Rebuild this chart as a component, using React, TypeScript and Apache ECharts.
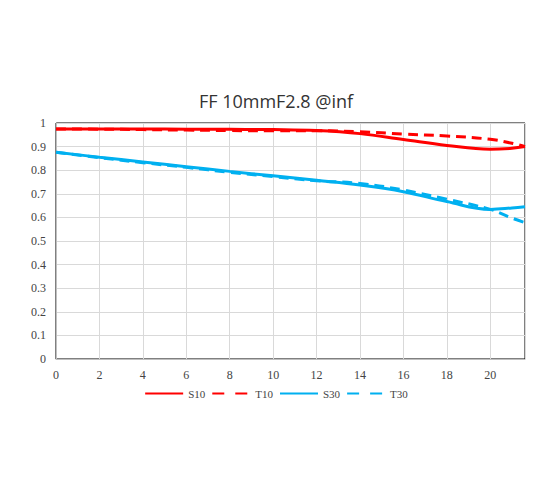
import React, { useEffect, useRef } from "react";
import * as echarts from "echarts";

const xValues = [0, 2, 4, 6, 8, 10, 12, 14, 16, 18, 20, 21, 21.6];
const s10 = [0.975, 0.975, 0.975, 0.974, 0.973, 0.972, 0.968, 0.955, 0.93, 0.905, 0.889, 0.893, 0.9];
const t10 = [0.975, 0.974, 0.972, 0.97, 0.968, 0.967, 0.967, 0.963, 0.953, 0.945, 0.931, 0.914, 0.9];
const s30 = [0.876, 0.855, 0.835, 0.815, 0.795, 0.776, 0.757, 0.737, 0.709, 0.667, 0.634, 0.64, 0.645];
const t30 = [0.876, 0.853, 0.832, 0.812, 0.791, 0.773, 0.755, 0.744, 0.716, 0.677, 0.634, 0.597, 0.578];
const seriesNames = ["S10", "T10", "S30", "T30"];
const titleText = "FF 10mmF2.8 @inf";

export default function App() {
  const ref = useRef<HTMLDivElement>(null);
  useEffect(() => {
    if (!ref.current) return;
    const chart = echarts.init(ref.current, undefined, { renderer: "svg" });
    const pair = (ys: number[]) => xValues.map((x, i) => [x, ys[i]]);
    const mk = (name: string, ys: number[], color: string, dashed: boolean) => ({
      name,
      type: "line",
      data: pair(ys),
      smooth: 0.4,
      symbol: "none",
      showSymbol: false,
      lineStyle: { color, width: 3, type: dashed ? [10, 6] : "solid" },
      itemStyle: { color },
    });
    const serifFont = "'Liberation Serif', 'DejaVu Serif', serif";
    chart.setOption({
      animation: false,
      backgroundColor: "#fff",
      title: {
        text: titleText,
        left: "center",
        top: 87,
        textStyle: { fontFamily: "'Open Sans', 'Noto Sans', sans-serif", fontSize: 18, fontWeight: "normal", color: "#333" },
      },
      legend: {
        top: 383,
        left: "center",
        itemWidth: 38,
        itemHeight: 12,
        itemGap: 6,
        itemStyle: { opacity: 0 },
        textStyle: { fontFamily: serifFont, fontSize: 11, color: "#444" },
        data: seriesNames.map((n) =>
          n.startsWith("T") ? { name: n, lineStyle: { type: [12, 11] } } : { name: n }
        ),
      },
      grid: {
        left: 56,
        right: 27,
        top: 123,
        bottom: 125,
        show: true,
        borderColor: "#000",
        borderWidth: 1,
      },
      xAxis: {
        type: "value",
        min: 0,
        max: 21.6,
        interval: 2,
        axisLine: { show: true, lineStyle: { color: "#bfbfbf" } },
        axisTick: { show: false },
        axisLabel: {
          fontFamily: serifFont,
          fontSize: 12,
          color: "#444",
          margin: 10,
          showMaxLabel: false,
        },
        splitLine: { show: true, lineStyle: { color: "#d9d9d9" } },
      },
      yAxis: {
        type: "value",
        min: 0,
        max: 1,
        interval: 0.1,
        axisLine: { show: true, lineStyle: { color: "#bfbfbf" } },
        axisTick: { show: false },
        axisLabel: {
          fontFamily: serifFont,
          fontSize: 12,
          color: "#444",
          margin: 10,
          formatter: (v: number) => (v === 0 ? "0" : v === 1 ? "1" : v.toFixed(1)),
        },
        splitLine: { show: true, lineStyle: { color: "#d9d9d9" } },
      },
      series: [
        mk("S10", s10, "#ff0000", false),
        mk("T10", t10, "#ff0000", true),
        mk("S30", s30, "#00b0f0", false),
        mk("T30", t30, "#00b0f0", true),
      ],
    });
    return () => chart.dispose();
  }, []);
  return <div ref={ref} style={{ width: 552, height: 484, marginLeft: -8, marginTop: -8 }} />;
}
